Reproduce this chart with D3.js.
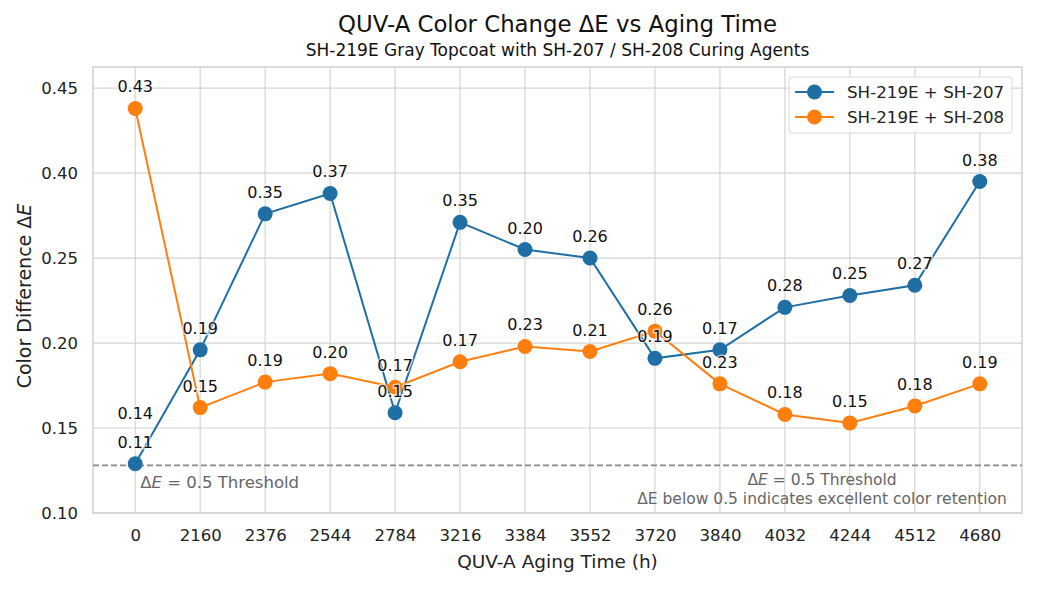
<!DOCTYPE html>
<html>
<head>
<meta charset="utf-8">
<script src="https://cdn.jsdelivr.net/npm/d3@7"></script>
<style>
  body { margin: 0; background: #fff; }
  text { font-family: "DejaVu Sans", sans-serif; }
</style>
</head>
<body>
<div id="chart"></div>
<script>
// aging time categories
var hours = ["0", "2160", "2376", "2544", "2784", "3216", "3384", "3552", "3720", "3840", "4032", "4244", "4512", "4680"];

// plotted values (as read against the gridlines)
var sh207 = [0.129, 0.196, 0.276, 0.288, 0.159, 0.271, 0.255, 0.250, 0.191, 0.196, 0.221, 0.228, 0.234, 0.295];
var sh208 = [0.338, 0.162, 0.177, 0.182, 0.174, 0.189, 0.198, 0.195, 0.207, 0.176, 0.158, 0.153, 0.163, 0.176];

// value labels as printed beside each point
var sh207Labels = ["0.11", "0.19", "0.35", "0.37", "0.15", "0.35", "0.20", "0.26", "0.19", "0.17", "0.28", "0.25", "0.27", "0.38"];
var sh208Labels = ["0.43", "0.15", "0.19", "0.20", "0.17", "0.17", "0.23", "0.21", "0.26", "0.23", "0.18", "0.15", "0.18", "0.19"];
// one extra label sitting at 0 h
var strayLabels = [{ i: 0, v: 0.146, t: "0.14" }];

// y gridline values and their printed tick labels
var yTickValues = [0.10, 0.15, 0.20, 0.25, 0.30, 0.35];
var yTickLabels = ["0.10", "0.15", "0.20", "0.25", "0.40", "0.45"];

var threshold = 0.128;

var svgWidth = 1053;
var svgHeight = 591;

var margin = { top: 67, right: 31, bottom: 78, left: 93 };
var width = svgWidth - margin.left - margin.right;
var height = svgHeight - margin.top - margin.bottom;

var blue = "#1f6fa5";
var orange = "#ff7f0e";

var svg = d3.select("#chart")
  .append("svg")
  .attr("width", svgWidth)
  .attr("height", svgHeight);

var chartGroup = svg.append("g")
  .attr("transform", `translate(${margin.left}, ${margin.top})`);

// x: category index, matplotlib-like 5% margins
var xScale = d3.scaleLinear()
  .domain([-0.65, hours.length - 1 + 0.65])
  .range([0, width]);

var yScale = d3.scaleLinear()
  .domain([0.10, 0.3624])
  .range([height, 0]);

// grid
chartGroup.append("g")
  .selectAll("line")
  .data(hours)
  .enter()
  .append("line")
  .attr("x1", (d, i) => xScale(i))
  .attr("x2", (d, i) => xScale(i))
  .attr("y1", 0)
  .attr("y2", height)
  .attr("stroke", "#d4d4d4")
  .attr("stroke-width", 1.2);

chartGroup.append("g")
  .selectAll("line")
  .data(yTickValues)
  .enter()
  .append("line")
  .attr("x1", 0)
  .attr("x2", width)
  .attr("y1", d => yScale(d))
  .attr("y2", d => yScale(d))
  .attr("stroke", "#d4d4d4")
  .attr("stroke-width", 1.2);

// frame
chartGroup.append("rect")
  .attr("width", width)
  .attr("height", height)
  .attr("fill", "none")
  .attr("stroke", "#cfcfcf")
  .attr("stroke-width", 1.5);

// axes (text only, no tick marks)
var bottomAxis = d3.axisBottom(xScale)
  .tickValues(d3.range(hours.length))
  .tickFormat(i => hours[i])
  .tickSize(0)
  .tickPadding(16);

var leftAxis = d3.axisLeft(yScale)
  .tickValues(yTickValues)
  .tickFormat((d, i) => yTickLabels[i])
  .tickSize(0)
  .tickPadding(15);

var xAxis = chartGroup.append("g")
  .attr("transform", `translate(0, ${height})`)
  .call(bottomAxis);

var yAxis = chartGroup.append("g")
  .call(leftAxis);

[xAxis, yAxis].forEach(function(ax) {
  ax.select(".domain").remove();
  ax.selectAll("text")
    .attr("font-size", "16.5px")
    .attr("fill", "#222");
});

// threshold line
chartGroup.append("line")
  .attr("x1", 0)
  .attr("x2", width)
  .attr("y1", yScale(threshold))
  .attr("y2", yScale(threshold))
  .attr("stroke", "#888")
  .attr("stroke-width", 1.6)
  .attr("stroke-dasharray", "6,3");

var leftNote = chartGroup.append("text")
  .attr("x", xScale(0) + 5)
  .attr("y", yScale(threshold) + 23)
  .attr("font-size", "16.5px")
  .attr("fill", "#666");
leftNote.append("tspan").text("Δ");
leftNote.append("tspan").attr("font-style", "italic").text("E");
leftNote.append("tspan").text(" = 0.5 Threshold");

var rightNote = chartGroup.append("text")
  .attr("x", 822 - margin.left)
  .attr("y", yScale(threshold) + 20)
  .attr("font-size", "15.5px")
  .attr("fill", "#666")
  .attr("text-anchor", "middle");
rightNote.append("tspan").text("Δ");
rightNote.append("tspan").attr("font-style", "italic").text("E");
rightNote.append("tspan").text(" = 0.5 Threshold");

chartGroup.append("text")
  .attr("x", 822 - margin.left)
  .attr("y", yScale(threshold) + 39)
  .attr("font-size", "15.5px")
  .attr("fill", "#666")
  .attr("text-anchor", "middle")
  .text("ΔE below 0.5 indicates excellent color retention");

// series
var line = d3.line()
  .x((d, i) => xScale(i))
  .y(d => yScale(d));

var series = [
  { name: "SH-219E + SH-207", values: sh207, labels: sh207Labels, color: blue },
  { name: "SH-219E + SH-208", values: sh208, labels: sh208Labels, color: orange }
];

series.forEach(function(s) {
  chartGroup.append("path")
    .datum(s.values)
    .attr("d", line)
    .attr("fill", "none")
    .attr("stroke", s.color)
    .attr("stroke-width", 2);

  chartGroup.append("g")
    .selectAll("circle")
    .data(s.values)
    .enter()
    .append("circle")
    .attr("cx", (d, i) => xScale(i))
    .attr("cy", d => yScale(d))
    .attr("r", 7.5)
    .attr("fill", s.color);
});

// value labels above points
var labelData = [];
series.forEach(function(s) {
  s.values.forEach(function(v, i) {
    labelData.push({ i: i, v: v, t: s.labels[i] });
  });
});
strayLabels.forEach(d => labelData.push(d));

chartGroup.append("g")
  .selectAll("text")
  .data(labelData)
  .enter()
  .append("text")
  .attr("x", d => xScale(d.i))
  .attr("y", d => yScale(d.v) - 16)
  .attr("text-anchor", "middle")
  .attr("font-size", "16px")
  .attr("fill", "#111")
  .attr("stroke", "rgba(255,255,255,0.6)")
  .attr("stroke-width", 3)
  .attr("paint-order", "stroke")
  .text(d => d.t);

// axis titles
chartGroup.append("text")
  .attr("x", width / 2)
  .attr("y", height + 55)
  .attr("text-anchor", "middle")
  .attr("font-size", "18.5px")
  .attr("fill", "#222")
  .text("QUV-A Aging Time (h)");

var yTitle = chartGroup.append("text")
  .attr("transform", `translate(-62, ${height / 2 + 6}) rotate(-90)`)
  .attr("text-anchor", "middle")
  .attr("font-size", "19px")
  .attr("fill", "#222");
yTitle.append("tspan").text("Color Difference Δ");
yTitle.append("tspan").attr("font-style", "italic").text("E");

// titles
svg.append("text")
  .attr("x", margin.left + width / 2)
  .attr("y", 32)
  .attr("text-anchor", "middle")
  .attr("font-size", "22.8px")
  .attr("fill", "#111")
  .text("QUV-A Color Change ΔE vs Aging Time");

svg.append("text")
  .attr("x", margin.left + width / 2)
  .attr("y", 56)
  .attr("text-anchor", "middle")
  .attr("font-size", "17px")
  .attr("fill", "#111")
  .text("SH-219E Gray Topcoat with SH-207 / SH-208 Curing Agents");

// legend
var legend = svg.append("g")
  .attr("transform", "translate(789, 77)");

legend.append("rect")
  .attr("width", 223)
  .attr("height", 56)
  .attr("rx", 3)
  .attr("fill", "rgba(255,255,255,0.85)")
  .attr("stroke", "#d8d8d8");

series.forEach(function(s, k) {
  var row = legend.append("g")
    .attr("transform", `translate(0, ${15 + k * 25})`);
  row.append("line")
    .attr("x1", 6)
    .attr("x2", 45)
    .attr("stroke", s.color)
    .attr("stroke-width", 2);
  row.append("circle")
    .attr("cx", 25.5)
    .attr("r", 7.5)
    .attr("fill", s.color);
  row.append("text")
    .attr("x", 58)
    .attr("y", 6)
    .attr("font-size", "16.7px")
    .attr("fill", "#222")
    .text(s.name);
});
</script>
</body>
</html>
